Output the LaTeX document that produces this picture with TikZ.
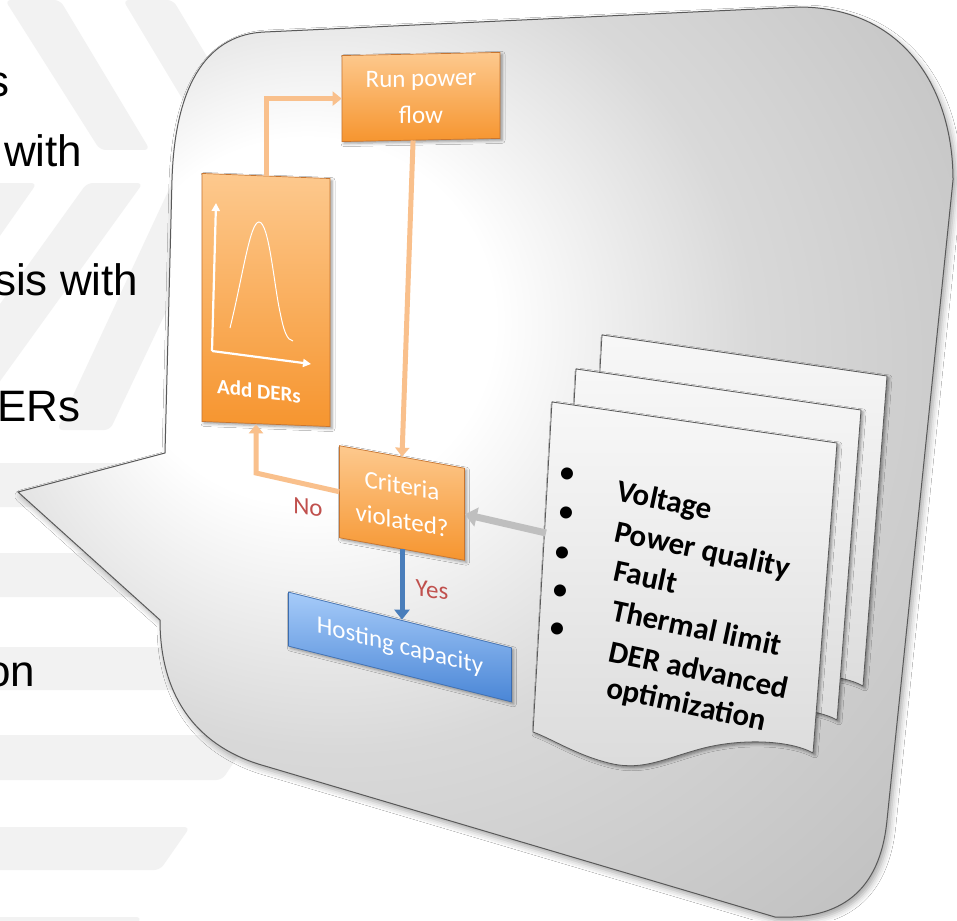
\documentclass[tikz,border=0pt]{standalone}
\usepackage{fontspec}
\newfontfamily\carlito{Carlito}
\newfontfamily\arialfont{Liberation Sans}
\usetikzlibrary{arrows.meta,calc,shadows.blur}

\pgfdeclareradialshading{calloutshade}{\pgfpoint{-11bp}{9bp}}{color(0bp)=(white); color(10bp)=(white); color(22bp)=(black!15); color(40bp)=(black!25); color(61bp)=(black!35); color(75bp)=(black!42)}

\definecolor{stripe}{HTML}{F2F2F2}
\definecolor{orangeline}{HTML}{F9C08C}
\definecolor{orangetop}{HTML}{FDC98E}
\definecolor{orangebot}{HTML}{F6952F}
\definecolor{orangeedge}{HTML}{C8752F}
\definecolor{bluetop}{HTML}{A6CBF9}
\definecolor{bluebot}{HTML}{4A86D6}
\definecolor{blueedge}{HTML}{3C6DB0}
\definecolor{blueline}{HTML}{4A7EBB}
\definecolor{redlabel}{HTML}{C0504D}
\definecolor{grayline}{HTML}{BFBFBF}

\begin{document}
\begin{tikzpicture}[x=1pt,y=-1pt,
  stripeband/.style={fill=stripe, rounded corners=6pt},
  lefttext/.style={anchor=base west, inner sep=0pt, text=black, font=\arialfont\fontsize{44}{44}\selectfont},
  box/.style={draw=orangeedge, line width=0.7pt, top color=orangetop, bottom color=orangebot,
    text=white, align=center, inner sep=0pt, font=\carlito\fontsize{25}{37}\selectfont,
    blur shadow={shadow xshift=2pt,shadow yshift=-2pt,shadow blur radius=3pt,shadow opacity=40}},
  bluebox/.style={box, draw=blueedge, top color=bluetop, bottom color=bluebot},
  oline/.style={draw=orangeline, line width=5pt, -{Triangle[length=9pt,width=14pt]}},
  bline/.style={draw=blueline, line width=5pt, -{Triangle[length=10pt,width=15pt]}},
  gline/.style={draw=grayline, line width=7pt, -{Triangle[length=12pt,width=19pt]}},
  answer/.style={text=redlabel, inner sep=0pt, font=\carlito\fontsize{25}{25}\selectfont},
  docpage/.style={draw=black!65, line width=0.8pt, top color=white!97!black, bottom color=white!86!black,
    blur shadow={shadow xshift=2pt,shadow yshift=-2pt,shadow blur radius=3pt,shadow opacity=45}},
  doctext/.style={anchor=base west, rotate=-12, inner sep=0pt, text=black, font=\carlito\bfseries\fontsize{31}{31}\selectfont},
  docbullet/.style={inner sep=0pt, text=black, font=\carlito\fontsize{34}{34}\selectfont},
  axis/.style={draw=white, line width=2.2pt, -{Triangle[length=8pt,width=8pt]}}
]
\useasboundingbox (0,0) rectangle (957,920);
\clip (0,0) rectangle (957,920);
\fill[white] (0,0) rectangle (957,920);

% background stripes
\fill[stripeband] (5,0) -- (60,0) -- (150,150) -- (100,150) -- cycle;
\fill[stripeband] (123,0) -- (173,0) -- (263,150) -- (213,150) -- cycle;
\fill[stripeband] (-10,183) -- (37,183) -- (-10,250) -- cycle;
\fill[stripeband] (87,183) -- (143,183) -- (-10,395) -- (-10,318) -- cycle;
\fill[stripeband] (172,183) -- (227,183) -- (110,430) -- (57,430) -- cycle;
\fill[stripeband] (-10,463) -- (240,463) -- (240,507) -- (-10,507) -- cycle;
\fill[stripeband] (-10,553) -- (240,553) -- (240,597) -- (-10,597) -- cycle;
\fill[stripeband] (-10,647) -- (240,647) -- (240,690) -- (-10,690) -- cycle;
\fill[stripeband] (-10,735) -- (252,735) -- (222,780) -- (-10,780) -- cycle;
\fill[stripeband] (-10,827) -- (190,827) -- (160,870) -- (-10,870) -- cycle;
\fill[stripeband] (-10,917) -- (142,917) -- (130,935) -- (-10,935) -- cycle;

% left text (partly cut off)
\node[lefttext] (l1) at (-13,97) {s};
\node[lefttext] (l2) at (4,167) {with};
\node[lefttext] (l3) at (-6,295) {sis with};
\node[lefttext] (l4) at (-3,421) {ERs};
\node[lefttext] (l5) at (-14,686) {on};

% callout
\shade[shading=calloutshade, draw=black!65, line width=1pt,
  blur shadow={shadow xshift=3pt,shadow yshift=-4pt,shadow blur radius=6pt,shadow opacity=35}]
  (265,32) -- (800,7) .. controls (905,8) and (953,90) .. (953,180)
  -- (887,820) .. controls (880,892) and (840,920) .. (775,917)
  -- (265,766) .. controls (200,748) and (160,700) .. (160,620)
  -- (18,492) -- (165,453) -- (172,180)
  .. controls (175,80) and (210,34) .. (265,32) -- cycle;

% flowchart boxes
\node[box, minimum width=158pt, minimum height=86pt, yslant=0.02] (run) at (421,97) {Run power\\flow};
\node[box, minimum width=128pt, minimum height=248pt, yslant=-0.04] (add) at (266,300) {};
\node[box, minimum width=125pt, minimum height=92pt, yslant=-0.18, font=\carlito\fontsize{25}{35}\selectfont] (crit) at (402,503) {Criteria\\violated?};
\node[bluebox, minimum width=223pt, minimum height=54pt, yslant=-0.25] (host) at (400,647) {Hosting capacity};

% graph inside Add DERs
\coordinate (ax0) at (212,351);
\coordinate (axy) at (216,203);
\coordinate (axx) at (311,364);
\draw[axis] (ax0) -- (axy);
\draw[axis] (ax0) -- (axx);
\draw[white, line width=1pt] (230,328) .. controls (243,275) and (250,222) .. (259,222)
  .. controls (269,222) and (274,285) .. (280,312) .. controls (284,332) and (287,340) .. (293,341);
\node[inner sep=0pt, text=white, yslant=-0.12, font=\carlito\bfseries\fontsize{21}{21}\selectfont] (addtext) at (259,391) {Add DERs};

% document stack
\begin{scope}[shift={(50,-67)}]
\path[docpage] (552,402) -- (837,443) -- (813,753)
  .. controls (790,740) and (740,738) .. (700,749)
  .. controls (660,760) and (640,772) .. (605,762)
  .. controls (575,754) and (550,738) .. (533,732) -- cycle;
\end{scope}
\begin{scope}[shift={(24,-33)}]
\path[docpage] (552,402) -- (837,443) -- (813,753)
  .. controls (790,740) and (740,738) .. (700,749)
  .. controls (660,760) and (640,772) .. (605,762)
  .. controls (575,754) and (550,738) .. (533,732) -- cycle;
\end{scope}
\path[docpage] (552,402) -- (837,443) -- (813,753)
  .. controls (790,740) and (740,738) .. (700,749)
  .. controls (660,760) and (640,772) .. (605,762)
  .. controls (575,754) and (550,738) .. (533,732) -- cycle;

\node[docbullet] (b1) at (567,476) {•};
\node[docbullet] (b2) at (566,515) {•};
\node[docbullet] (b3) at (562,555) {•};
\node[docbullet] (b4) at (560,593) {•};
\node[docbullet] (b5) at (557,631) {•};
\node[doctext] (t1) at (615,500) {Voltage};
\node[doctext] (t2) at (613,541) {Power quality};
\node[doctext] (t3) at (612,580) {Fault};
\node[doctext] (t4) at (610,620) {Thermal limit};
\node[doctext] (t5) at (607,661) {DER advanced};
\node[doctext] (t6) at (605,697) {optimization};

% connectors
\draw[oline] (add.north) |- (run.west);
\draw[oline] ($(run.south west)!0.45!(run.south east)$) -- (crit.north);
\coordinate (cno) at (256,473);
\draw[oline] (crit.west) -- (cno) -- (cno |- add.south);
\draw[bline] (crit.south) -- (crit.south |- host.north);
\coordinate (docin) at (546,533);
\draw[gline] (docin) -- (crit.east);

\node[answer, yslant=-0.1] (no) at (308,507) {No};
\node[answer, yslant=-0.15] (yes) at (432,590) {Yes};
\end{tikzpicture}
\end{document}
